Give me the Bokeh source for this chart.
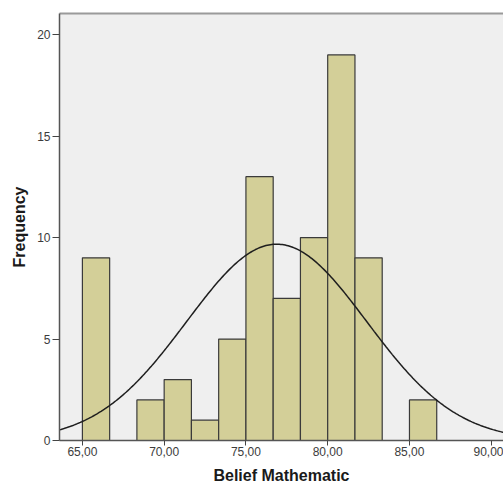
import numpy as np
from bokeh.plotting import figure
from bokeh.models import (ColumnDataSource, FixedTicker, CustomJSTickFormatter,
                          LinearAxis, Range1d)
from bokeh.embed import file_html
from bokeh.resources import INLINE

# ---- data ----
bin_left = [65.0, 66.667, 68.333, 70.0, 71.667, 73.333, 75.0, 76.667, 78.333, 80.0, 81.667, 83.333, 85.0]
bin_right = [66.667, 68.333, 70.0, 71.667, 73.333, 75.0, 76.667, 78.333, 80.0, 81.667, 83.333, 85.0, 86.667]
counts = [9, 0, 2, 3, 1, 5, 13, 7, 10, 19, 9, 0, 2]
x_ticks = [65, 70, 75, 80, 85, 90]
y_ticks = [0, 5, 10, 15, 20]
curve_mean = 76.88
curve_sd = 5.5

x_start, x_end = 63.6, 90.75
y_start, y_end = 0, 21.04

p = figure(width=503, height=486, output_backend="svg", toolbar_location=None,
           x_range=Range1d(x_start, x_end), y_range=Range1d(y_start, y_end),
           min_border_left=59, min_border_right=0, min_border_top=13, min_border_bottom=46)
p.background_fill_color = "#efefef"
p.border_fill_color = "white"
p.outline_line_color = None
p.xgrid.visible = False
p.ygrid.visible = False

bars = ColumnDataSource(dict(left=[l for l, c in zip(bin_left, counts) if c > 0],
                             right=[r for r, c in zip(bin_right, counts) if c > 0],
                             top=[c for c in counts if c > 0]))
p.quad(left="left", right="right", bottom=0, top="top", source=bars,
       fill_color="#d3cf98", line_color="#3a3a3a", line_width=1.2)

# normal curve fitted to the histogram
n_total = sum(counts)
bw = bin_right[0] - bin_left[0]
xs = np.linspace(x_start, x_end, 300)
ys = n_total * bw / (curve_sd * np.sqrt(2 * np.pi)) * np.exp(-0.5 * ((xs - curve_mean) / curve_sd) ** 2)
p.line(xs, ys, line_color="#1e1e1e", line_width=1.5)

font = "Liberation Sans"
xa = p.xaxis[0]
xa.ticker = FixedTicker(ticks=x_ticks)
xa.formatter = CustomJSTickFormatter(code="return tick.toFixed(2).replace('.', ',');")
xa.axis_label = "Belief Mathematic"
ya = p.yaxis[0]
ya.ticker = FixedTicker(ticks=y_ticks)
ya.axis_label = "Frequency"
for ax in (xa, ya):
    ax.minor_tick_line_color = None
    ax.major_tick_in = 0
    ax.major_tick_line_color = "#444444"
    ax.axis_line_color = "#555555"
    ax.axis_line_width = 1.5
    ax.major_label_text_font = font
    ax.major_label_text_font_size = "12px"
    ax.major_label_text_color = "#3c3c3c"
    ax.axis_label_text_font = font
    ax.axis_label_text_font_style = "bold"
    ax.axis_label_text_font_size = "16px"
    ax.axis_label_text_color = "#1a1a1a"
xa.major_tick_out = 5
xa.major_label_standoff = 1
xa.axis_label_standoff = 8
ya.major_tick_out = 7
ya.major_label_standoff = 2
ya.axis_label_standoff = 6

top = LinearAxis(ticker=FixedTicker(ticks=[]), major_label_text_font_size="0px",
                 major_tick_line_color=None, minor_tick_line_color=None,
                 axis_line_color="#9a9a9a", axis_line_width=2,
                 major_label_standoff=0, major_tick_out=0, major_tick_in=0)
p.add_layout(top, "above")

open("out.html", "w").write(file_html(p, INLINE))
